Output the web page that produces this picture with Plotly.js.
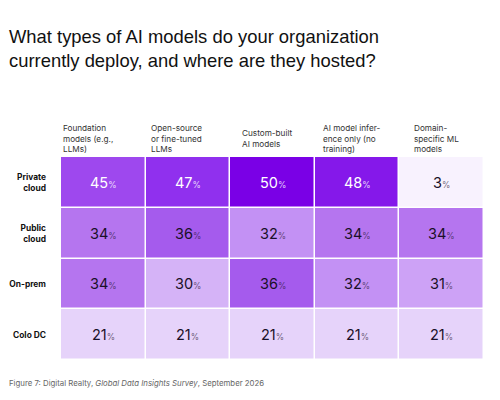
<!DOCTYPE html>
<html><head><meta charset="utf-8">
<script src="https://cdn.plot.ly/plotly-3.0.1.min.js"></script>
<style>html,body{margin:0;padding:0;background:#fff}</style></head>
<body><div id="chart" style="width:500px;height:400px"></div>
<script>
const columns = ["Foundation<br>models (e.g.,<br>LLMs)", "Open-source<br>or fine-tuned<br>LLMs", "Custom-built<br>AI models", "AI model infer-<br>ence only (no<br>training)", "Domain-<br>specific ML<br>models"];
const rows = ["Private<br>cloud", "Public<br>cloud", "On-prem", "Colo DC"];
const privateCloud = [45, 47, 50, 48, 3];
const publicCloud = [34, 36, 32, 34, 34];
const onPrem = [34, 30, 36, 32, 31];
const coloDC = [21, 21, 21, 21, 21];
const values = [privateCloud, publicCloud, onPrem, coloDC];
const colorStops = [[3,"#f8f2fe"],[21,"#e6d3fa"],[30,"#d5b3f7"],[31,"#cda2f6"],[32,"#c391f4"],[34,"#b575ef"],[36,"#a55bed"],[45,"#9e48ee"],[47,"#9030ee"],[48,"#8518ea"],[50,"#7a00e6"]];
const footPre = "Figure 7: Digital Realty, ", footIt = "Global Data Insights Survey", footPost = ", September 2026";
const titleText = "What types of AI models do your organization<br>currently deploy, and where are they hosted?";
const headerShift = [1.5, 5, 12, 8, 15];
const F = "Inter, sans-serif";
const TF = "'Liberation Sans', sans-serif";
const zmin = 3, zmax = 50;
const colorscale = colorStops.map(s => [(s[0]-zmin)/(zmax-zmin), s[1]]);
const ann = [];
values.forEach((r,i) => r.forEach((v,j) => {
  const light = v >= 45;
  const c = light ? "#ffffff" : "#1a1028";
  const pc = light ? "rgba(255,255,255,.8)" : "rgba(26,16,40,.65)";
  ann.push({x:j,y:i,xref:"x",yref:"y",showarrow:false,
    text:`<span style="font-size:14.5px;color:${c}">${v}</span><span style="font-size:8.5px;color:${pc}">%</span>`,
    font:{family:F,size:14.5,color:c}});
}));
const plotH = 203.5;
columns.forEach((t,j) => ann.push({x:j-0.5,y:1+(157-138)/plotH,xref:"x",yref:"paper",xanchor:"left",yanchor:"middle",align:"left",xshift:headerShift[j]-2,
  showarrow:false,text:t,font:{family:F,size:8.2,color:"#333333"}}));
ann.push({x:-0.5,y:-(377-360.5)/plotH,xref:"x",yref:"paper",xanchor:"left",yanchor:"top",align:"left",showarrow:false,xshift:-54,
  text:`${footPre}<i>${footIt}</i>${footPost}`,font:{family:F,size:7.8,color:"#666666"}});
const layout = {
  width:500,height:400,autosize:false,paper_bgcolor:"#fff",plot_bgcolor:"#fff",
  margin:{l:61,r:15.5,t:157,b:39.5,pad:0},
  title:{text:titleText,x:9/500,xref:"container",xanchor:"left",y:1-43/400,yref:"container",yanchor:"top",
    font:{family:TF,size:18.4,color:"#111111"}},
  xaxis:{type:"linear",range:[-0.5,4.5],showticklabels:false,ticks:"",showgrid:false,zeroline:false,showline:false},
  yaxis:{type:"linear",range:[3.5,-0.5],tickvals:[0,1,2,3],ticktext:rows.map(t=>`<b>${t}</b>`),ticks:"",ticklen:0,
    tickfont:{family:F,size:8.4,color:"#111111"},showgrid:false,zeroline:false,showline:false,automargin:false,ticklabelstandoff:14},
  annotations:ann
};
Plotly.newPlot("chart",[{type:"heatmap",z:values,x:[0,1,2,3,4],y:[0,1,2,3],colorscale,zmin,zmax,showscale:false,xgap:1.5,ygap:1.5,hoverinfo:"skip"}],layout,{displayModeBar:false,staticPlot:true});
</script></body></html>
